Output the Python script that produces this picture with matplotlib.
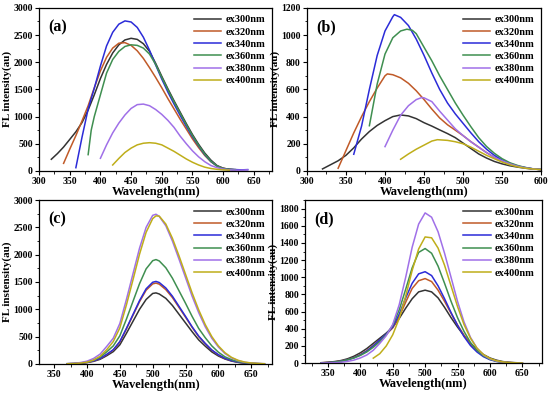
import matplotlib
matplotlib.use("Agg")
import matplotlib.pyplot as plt
from matplotlib.ticker import MultipleLocator, AutoMinorLocator

plt.rcParams['font.family'] = ['Liberation Serif', 'DejaVu Serif']
plt.rcParams['font.weight'] = 'bold'

labels = ['ex300nm', 'ex320nm', 'ex340nm', 'ex360nm', 'ex380nm', 'ex400nm']
colors = ['#333333', '#c05a28', '#2b2bd8', '#3f8f50', '#a070e8', '#bfae1a']

# ---------------- Panel (a) ----------------
a_x300 = [320, 330, 340, 350, 360, 370, 380, 390, 400, 410, 420, 430, 440, 450, 460, 470, 480, 490, 500, 510, 520, 530, 540, 550, 560, 570, 580, 590, 600, 610, 620]
a_y300 = [215, 320, 440, 580, 720, 890, 1120, 1400, 1700, 1960, 2170, 2320, 2410, 2440, 2420, 2340, 2200, 1980, 1740, 1510, 1290, 1080, 870, 670, 490, 330, 200, 100, 50, 30, 25]
a_x320 = [340, 350, 360, 370, 380, 390, 400, 410, 420, 430, 440, 450, 460, 470, 480, 490, 500, 510, 520, 530, 540, 550, 560, 570, 580, 590, 600, 610, 620]
a_y320 = [140, 400, 650, 920, 1200, 1530, 1840, 2090, 2260, 2350, 2360, 2310, 2210, 2070, 1900, 1720, 1530, 1330, 1140, 950, 770, 590, 430, 285, 170, 90, 50, 30, 20]
a_x340 = [360, 370, 380, 390, 400, 410, 420, 430, 440, 450, 460, 470, 480, 490, 500, 510, 520, 530, 540, 550, 560, 570, 580, 590, 600, 610, 620, 630, 640]
a_y340 = [60, 620, 1140, 1520, 1930, 2300, 2550, 2700, 2760, 2740, 2640, 2460, 2220, 1950, 1690, 1450, 1230, 1020, 820, 630, 460, 300, 175, 90, 45, 30, 25, 20, 25]
a_x360 = [380, 385, 390, 400, 410, 420, 430, 440, 450, 460, 470, 480, 490, 500, 510, 520, 530, 540, 550, 560, 570, 580, 590, 600, 610, 620]
a_y360 = [300, 750, 1000, 1400, 1800, 2050, 2200, 2290, 2320, 2310, 2260, 2150, 1960, 1720, 1490, 1270, 1060, 850, 650, 470, 310, 180, 90, 45, 30, 20]
a_x380 = [400, 410, 420, 430, 440, 450, 460, 470, 480, 490, 500, 510, 520, 530, 540, 550, 560, 570, 580, 590, 600, 610, 620, 630, 640]
a_y380 = [233, 480, 700, 880, 1030, 1150, 1220, 1230, 1200, 1130, 1040, 930, 800, 640, 500, 370, 260, 170, 100, 60, 35, 20, 15, 15, 20]
a_x400 = [420, 430, 440, 450, 460, 470, 480, 490, 500, 510, 520, 530, 540, 550, 560, 570, 580, 590, 600, 610]
a_y400 = [110, 230, 340, 420, 480, 510, 520, 510, 480, 420, 360, 290, 220, 160, 110, 70, 45, 30, 20, 15]

# ---------------- Panel (b) ----------------
b_x300 = [320, 330, 340, 350, 360, 370, 380, 390, 400, 410, 420, 430, 440, 450, 460, 470, 480, 490, 500, 510, 520, 530, 540, 550, 560, 570, 580, 590, 600]
b_y300 = [15, 45, 75, 115, 170, 235, 290, 335, 370, 400, 412, 405, 385, 355, 330, 302, 275, 245, 205, 165, 125, 95, 70, 52, 38, 28, 20, 14, 10]
b_x320 = [340, 350, 360, 370, 380, 390, 400, 403, 410, 420, 430, 440, 450, 460, 470, 480, 490, 500, 510, 520, 530, 540, 550, 560, 570, 580, 590, 600]
b_y320 = [20, 150, 280, 400, 510, 610, 700, 714, 708, 685, 645, 590, 525, 455, 390, 340, 300, 260, 215, 175, 135, 100, 75, 52, 35, 22, 15, 10]
b_x340 = [360, 370, 380, 390, 400, 410, 412, 420, 430, 440, 450, 460, 470, 480, 490, 500, 510, 520, 530, 540, 550, 560, 570, 580, 590, 600]
b_y340 = [123, 330, 600, 850, 1030, 1135, 1150, 1130, 1070, 970, 850, 720, 600, 500, 420, 350, 280, 215, 160, 115, 80, 55, 35, 25, 15, 10]
b_x360 = [380, 390, 400, 410, 420, 428, 435, 440, 450, 460, 470, 480, 490, 500, 510, 520, 530, 540, 550, 560, 570, 580, 590, 600]
b_y360 = [333, 640, 860, 980, 1030, 1043, 1035, 1010, 910, 810, 700, 600, 500, 410, 325, 245, 180, 130, 90, 60, 40, 25, 15, 10]
b_x380 = [400, 410, 420, 430, 440, 447, 450, 460, 470, 480, 490, 500, 510, 520, 530, 540, 550, 560, 570, 580, 590, 600]
b_y380 = [179, 300, 410, 480, 525, 540, 538, 510, 440, 375, 310, 260, 215, 175, 135, 100, 75, 52, 35, 22, 15, 10]
b_x400 = [420, 430, 440, 450, 460, 467, 470, 480, 490, 500, 510, 520, 530, 540, 550, 560, 570, 580, 590, 600]
b_y400 = [86, 125, 160, 190, 220, 230, 229, 225, 215, 200, 175, 145, 115, 90, 65, 45, 30, 20, 14, 10]

# ---------------- Panel (c) ----------------
c_x = [370, 380, 390, 400, 410, 420, 430, 440, 450, 460, 470, 480, 490, 500, 505, 510, 520, 530, 540, 550, 560, 570, 580, 590, 600, 610, 620, 630, 640, 650, 660, 670]
c_y300 = [2, 5, 12, 25, 47, 85, 150, 225, 350, 560, 780, 1000, 1180, 1290, 1300, 1280, 1200, 1070, 910, 750, 590, 440, 325, 220, 145, 90, 52, 28, 14, 7, 4, 2]
c_y320 = [3, 6, 14, 28, 55, 98, 170, 255, 400, 640, 890, 1140, 1350, 1465, 1480, 1460, 1360, 1215, 1035, 855, 670, 500, 370, 250, 165, 100, 60, 32, 16, 8, 4, 2]
c_y340 = [3, 6, 14, 28, 56, 100, 175, 260, 410, 650, 905, 1160, 1375, 1495, 1510, 1490, 1390, 1240, 1055, 870, 680, 510, 375, 255, 168, 102, 60, 33, 17, 8, 4, 2]
c_y360 = [4, 8, 17, 35, 70, 125, 220, 330, 515, 820, 1145, 1470, 1740, 1890, 1910, 1885, 1760, 1570, 1340, 1110, 870, 650, 480, 330, 215, 130, 78, 42, 21, 10, 5, 2]
c_y380 = [5, 10, 25, 50, 100, 180, 320, 470, 740, 1180, 1650, 2120, 2500, 2720, 2740, 2700, 2530, 2250, 1920, 1580, 1240, 940, 680, 470, 310, 190, 110, 60, 30, 15, 8, 4]
c_y400 = [3, 6, 15, 32, 70, 140, 260, 410, 660, 1080, 1540, 2010, 2410, 2660, 2710, 2705, 2560, 2300, 1980, 1640, 1300, 990, 720, 500, 330, 205, 120, 66, 34, 17, 9, 4]

# ---------------- Panel (d) ----------------
d_x = [340, 350, 360, 370, 380, 390, 400, 410, 420, 430, 440, 450, 460, 470, 480, 490, 500, 510, 520, 530, 540, 550, 560, 570, 580, 590, 600, 610, 620, 630, 640, 650]
d_y300 = [5, 10, 18, 30, 50, 80, 120, 170, 230, 290, 350, 420, 520, 640, 750, 830, 850, 830, 760, 650, 530, 420, 320, 230, 160, 100, 60, 35, 18, 10, 5, 2]
d_y320 = [4, 8, 14, 24, 40, 65, 100, 145, 205, 270, 335, 410, 540, 710, 870, 960, 985, 950, 850, 720, 580, 445, 325, 225, 150, 90, 50, 26, 13, 6, 3, 1]
d_y340 = [3, 6, 12, 22, 38, 62, 95, 140, 200, 270, 340, 420, 570, 760, 930, 1040, 1065, 1020, 900, 750, 590, 440, 310, 205, 130, 75, 40, 20, 10, 5, 2, 1]
d_y360 = [3, 6, 12, 22, 38, 60, 90, 130, 185, 250, 330, 440, 620, 860, 1110, 1290, 1335, 1280, 1130, 930, 720, 530, 370, 240, 150, 85, 45, 22, 11, 5, 2, 1]
d_y380 = [2, 3, 5, 10, 20, 35, 60, 95, 150, 230, 320, 450, 680, 1000, 1350, 1620, 1750, 1700, 1530, 1280, 1000, 720, 480, 300, 175, 95, 50, 25, 12, 6, 3, 1]
d_x400 = [420, 430, 440, 450, 460, 470, 480, 490, 500, 510, 520, 530, 540, 550, 560, 570, 580, 590, 600, 610, 620, 630, 640, 650]
d_y400 = [58, 110, 200, 330, 520, 780, 1080, 1330, 1470, 1460, 1340, 1140, 900, 660, 450, 290, 175, 100, 55, 28, 14, 7, 3, 1]

panels = [
    dict(name='(a)', series=[(a_x300, a_y300), (a_x320, a_y320), (a_x340, a_y340), (a_x360, a_y360), (a_x380, a_y380), (a_x400, a_y400)],
         xlim=(300, 680), ylim=(0, 3000), xstep=50, ystep=500, ylabel='FL intensity(au)',
         rect=[0.071, 0.565, 0.424, 0.415]),
    dict(name='(b)', series=[(b_x300, b_y300), (b_x320, b_y320), (b_x340, b_y340), (b_x360, b_y360), (b_x380, b_y380), (b_x400, b_y400)],
         xlim=(300, 600), ylim=(0, 1200), xstep=50, ystep=200, ylabel='FL intensity(au)',
         rect=[0.558, 0.565, 0.426, 0.415]),
    dict(name='(c)', series=[(c_x, c_y300), (c_x, c_y320), (c_x, c_y340), (c_x, c_y360), (c_x, c_y380), (c_x, c_y400)],
         xlim=(327, 682), ylim=(0, 3000), xstep=50, ystep=500, ylabel='FL instensity(au)',
         rect=[0.071, 0.074, 0.424, 0.417]),
    dict(name='(d)', series=[(d_x, d_y300), (d_x, d_y320), (d_x, d_y340), (d_x, d_y360), (d_x, d_y380), (d_x400, d_y400)],
         xlim=(315, 680), ylim=(0, 1900), xstep=50, ystep=200, ylabel='FL intensity(au)',
         rect=[0.555, 0.076, 0.430, 0.415]),
]

fig = plt.figure(figsize=(5.5, 3.93), dpi=100)
for p in panels:
    ax = fig.add_axes(p['rect'])
    for (xs, ys), lab, col in zip(p['series'], labels, colors):
        ax.plot(xs, ys, color=col, lw=1.1, label=lab)
    ax.set_xlim(*p['xlim'])
    ax.set_ylim(*p['ylim'])
    ax.xaxis.set_major_locator(MultipleLocator(p['xstep']))
    ax.yaxis.set_major_locator(MultipleLocator(p['ystep']))
    ax.xaxis.set_minor_locator(AutoMinorLocator(2))
    ax.yaxis.set_minor_locator(AutoMinorLocator(2))
    ax.tick_params(which='major', direction='out', length=3, width=0.8, labelsize=7, pad=1.5)
    ax.tick_params(which='minor', direction='out', length=1.8, width=0.6)
    for lab in ax.get_xticklabels() + ax.get_yticklabels():
        lab.set_fontweight('bold')
    for s in ax.spines.values():
        s.set_linewidth(0.9)
    ax.set_xlabel('Wavelength(nm)', fontsize=9, fontweight='bold', labelpad=0)
    ax.set_ylabel(p['ylabel'], fontsize=8, fontweight='bold', labelpad=1)
    ax.text(0.04, 0.93, p['name'], transform=ax.transAxes, fontsize=11.5, fontweight='bold', va='top', ha='left')
    ax.legend(loc='upper right', frameon=False, handlelength=2.6, handletextpad=0.4,
              labelspacing=0.28, borderaxespad=0.3, prop=dict(weight='bold', size=7.5))

fig.savefig('out.png', dpi=100)
